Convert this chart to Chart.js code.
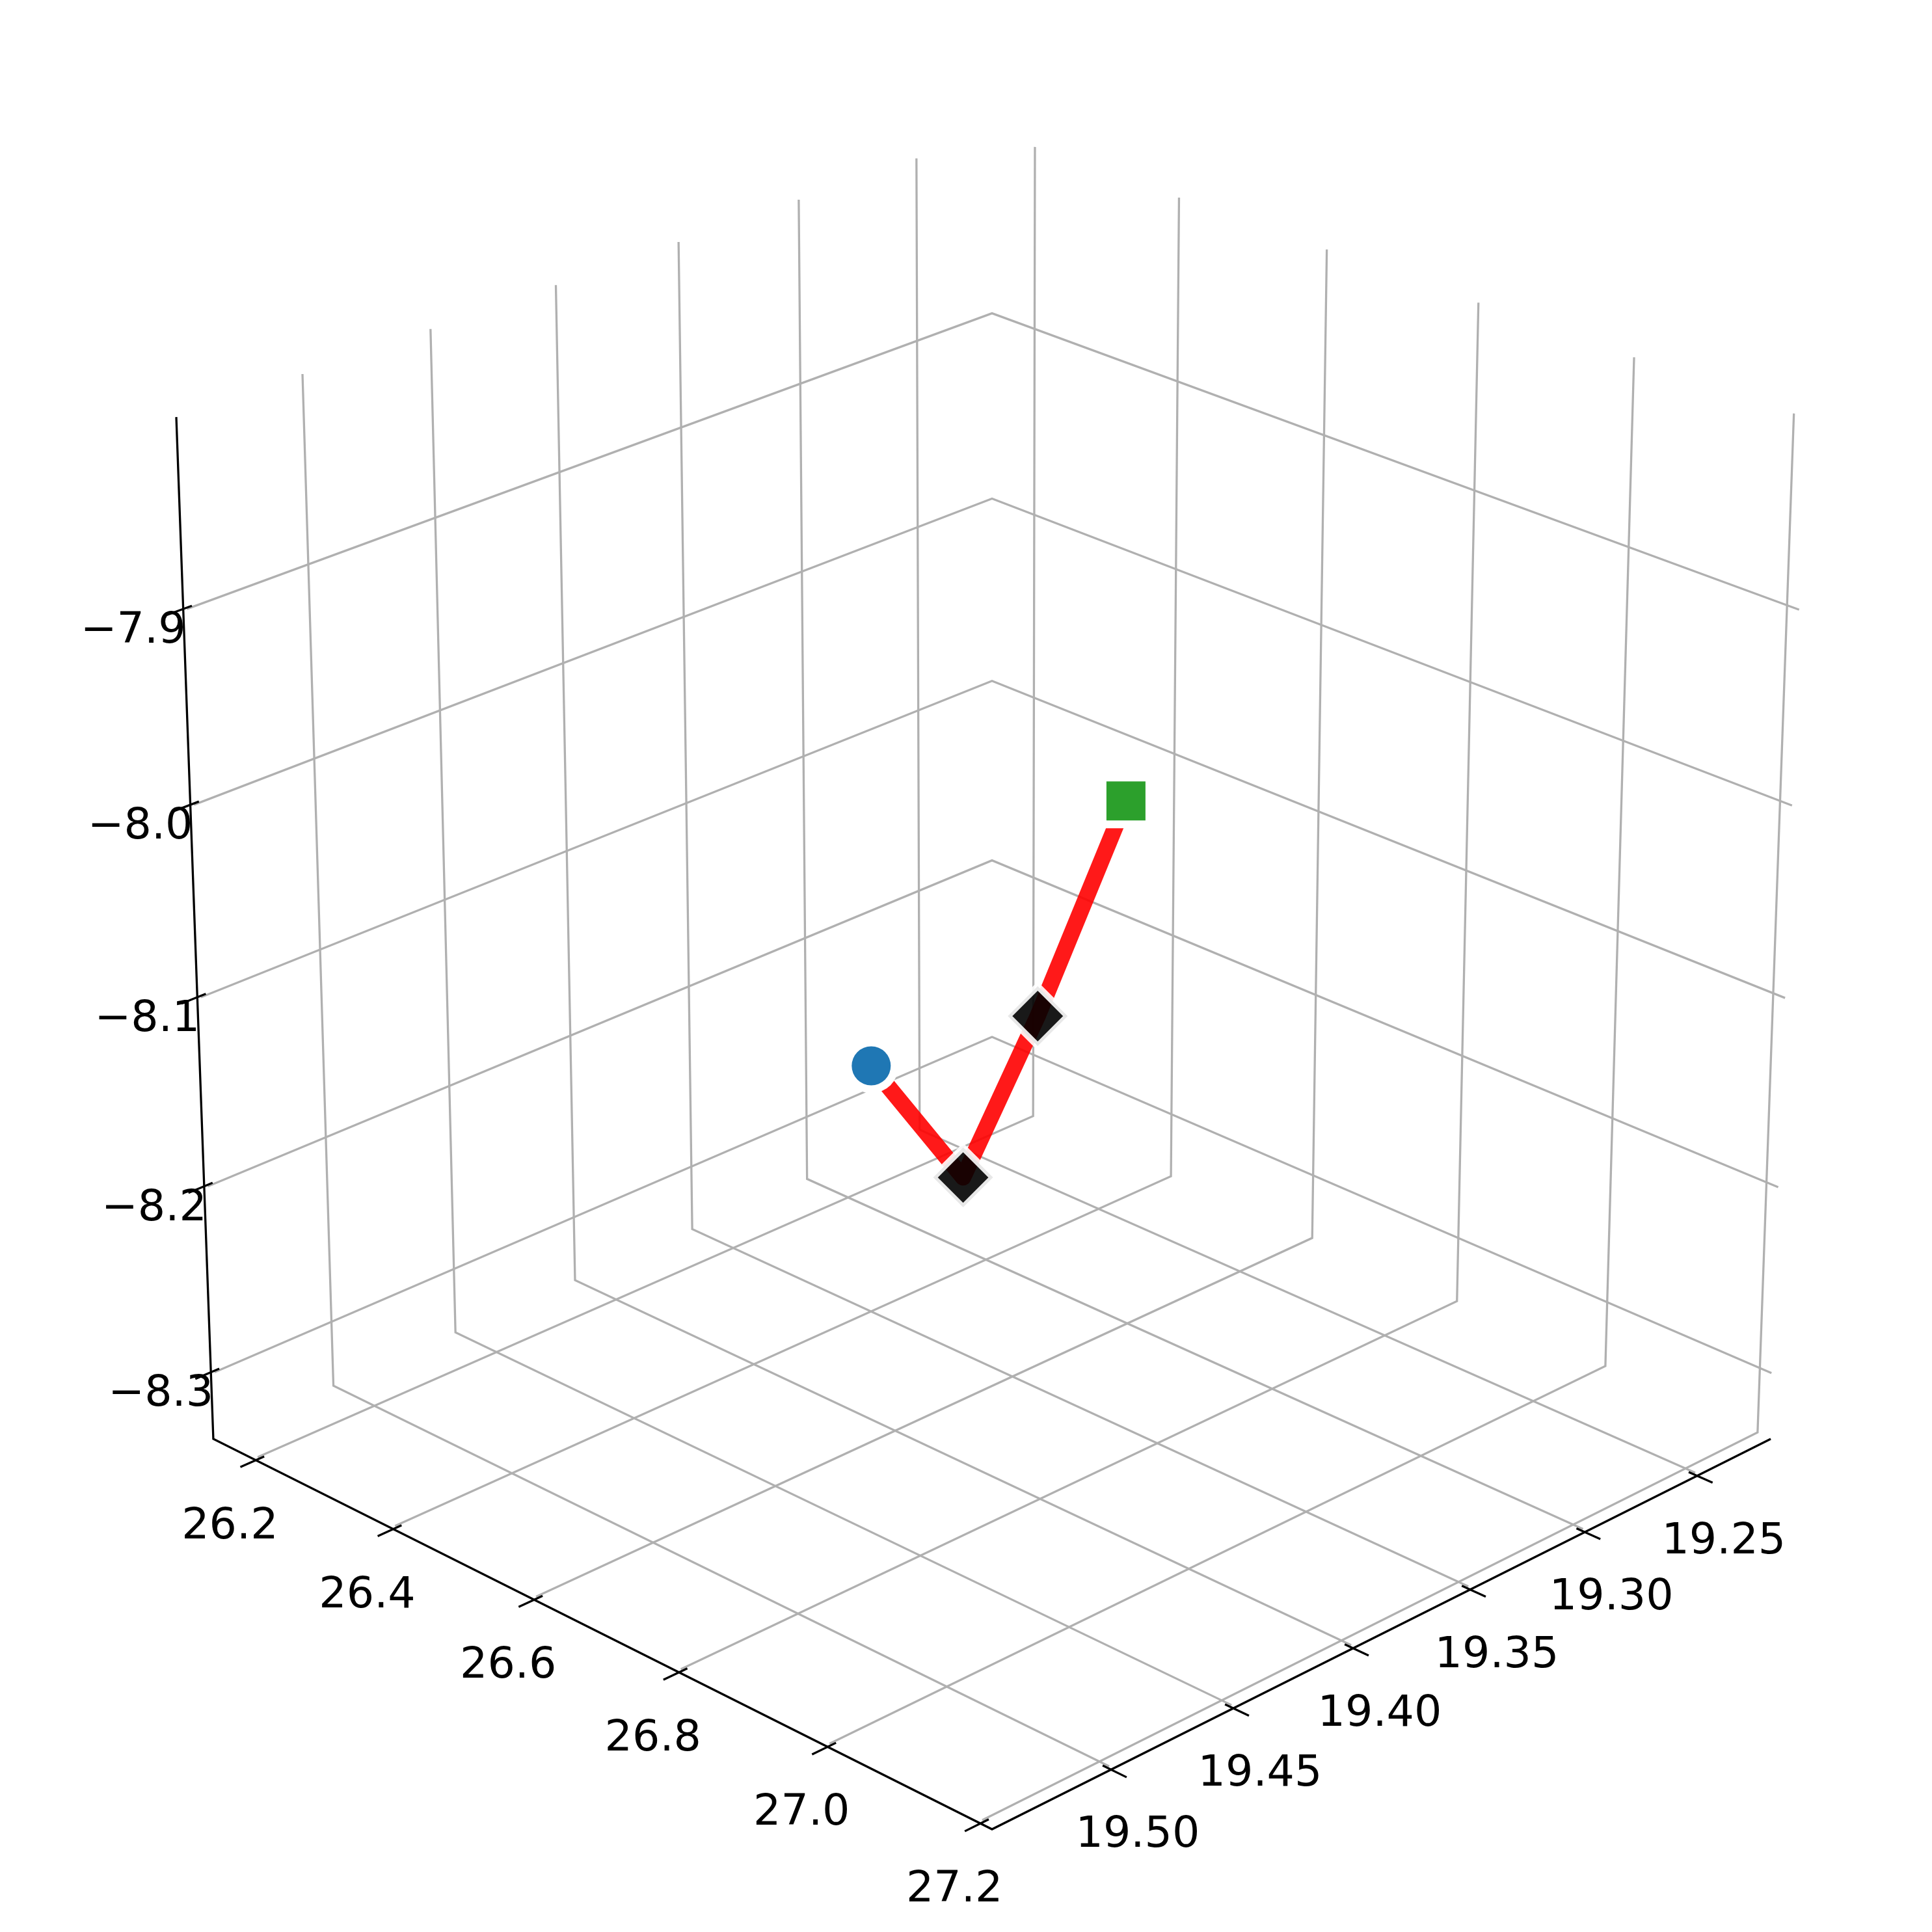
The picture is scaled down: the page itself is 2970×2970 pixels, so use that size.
<!DOCTYPE html>
<html lang="en">
<head>
  <meta charset="UTF-8" />
  <title>3D path</title>
  <style>
    body { margin: 0; background: #ffffff; }
    canvas { display: block; }
  </style>
</head>
<body>
  <canvas id="chart" width="2970" height="2970"></canvas>

  <script src="https://cdn.jsdelivr.net/npm/chart.js"></script>
  <script>
    // path
    const pathX = [19.2893, 19.2976, 19.3647, 19.4943];
    const pathY = [26.1992, 26.3594, 26.6816, 27.2086];
    const pathZ = [-8.2671, -8.2976, -8.1184, -7.8569];

    // axis ranges and ticks
    const xLim = [19.2166, 19.5476];
    const yLim = [26.137, 27.215];
    const zLim = [-8.3363, -7.8037];
    const xTicks = [19.25, 19.30, 19.35, 19.40, 19.45, 19.50];
    const yTicks = [26.2, 26.4, 26.6, 26.8, 27.0, 27.2];
    const zTicks = [-8.3, -8.2, -8.1, -8.0, -7.9];
    const xTickLabels = ['19.25', '19.30', '19.35', '19.40', '19.45', '19.50'];
    const yTickLabels = ['26.2', '26.4', '26.6', '26.8', '27.0', '27.2'];
    const zTickLabels = ['\u22128.3', '\u22128.2', '\u22128.1', '\u22128.0', '\u22127.9'];

    // camera, same idea as mplot3d: elev 25, azim 45, dist 10
    const elev = 25 * Math.PI / 180;
    const azim = 45 * Math.PI / 180;
    const dist = 10;
    const half = 0.55;   // half size of the cube in view units
    const GRID_IN = 0.0025;
    const TICK_IN = 0.011;
    const TICK_OUT = 0.0205;

    const norm = (v, lim) => (2 * (v - lim[0]) / (lim[1] - lim[0]) - 1) * half;

    // cube coords -> projected plane
    function cube(a, b, c) {
      const ce = Math.cos(elev), se = Math.sin(elev), ca = Math.cos(azim), sa = Math.sin(azim);
      const d = dist - (ce * ca * a + ce * sa * b + se * c);
      return {
        x: (-sa * a + ca * b) / d,
        y: (-se * ca * a - se * sa * b + ce * c) / d
      };
    }
    const project = (x, y, z) => cube(norm(x, xLim), norm(y, yLim), norm(z, zLim));

    function line(points, color, width) {
      return {
        data: points,
        showLine: true,
        borderColor: color,
        borderWidth: width,
        pointRadius: 0,
        clip: false
      };
    }

    function marker(points, style, radius, fill, edge, edgeWidth) {
      return {
        data: points,
        showLine: false,
        pointStyle: style,
        pointRadius: radius,
        pointBackgroundColor: fill,
        pointBorderColor: edge,
        pointBorderWidth: edgeWidth,
        clip: false
      };
    }

    const pathPoints = pathX.map((x, i) => project(x, pathY[i], pathZ[i]));
    const last = pathPoints.length - 1;
    const g = half - GRID_IN;

    const gridSets = [];
    xTicks.forEach(t => {
      const a = norm(t, xLim);
      gridSets.push(line([cube(a, g, -g), cube(a, -g, -g), cube(a, -g, half)], '#b0b0b0', 3.3));
    });
    yTicks.forEach(t => {
      const b = norm(t, yLim);
      gridSets.push(line([cube(g, b, -g), cube(-g, b, -g), cube(-g, b, half)], '#b0b0b0', 3.3));
    });
    zTicks.forEach(t => {
      const c = norm(t, zLim);
      gridSets.push(line([cube(g, -g, c), cube(-g, -g, c), cube(-g, half, c)], '#b0b0b0', 3.3));
    });

    const tickSets = [];
    xTicks.forEach(t => {
      const a = norm(t, xLim);
      tickSets.push(line([cube(a, half + TICK_OUT, -half), cube(a, half - TICK_IN, -half)], '#000000', 3.3));
    });
    yTicks.forEach(t => {
      const b = norm(t, yLim);
      tickSets.push(line([cube(half + TICK_OUT, b, -half), cube(half - TICK_IN, b, -half)], '#000000', 3.3));
    });
    zTicks.forEach(t => {
      const c = norm(t, zLim);
      tickSets.push(line([cube(half + TICK_OUT, -half, c), cube(half - TICK_IN, -half, c)], '#000000', 3.3));
    });

    const axisSet = line([
      cube(half, -half, half),
      cube(half, -half, -half),
      cube(half, half, -half),
      cube(-half, half, -half)
    ], '#000000', 3.3);

    const redLine = line(pathPoints, 'rgba(255, 0, 0, 0.9)', 25);
    redLine.borderJoinStyle = 'round';

    // Chart.js paints the first dataset last, so markers come first here
    const datasets = [
      marker([pathPoints[0]], 'circle', 30, '#1f77b4', '#1f77b4', 0),
      marker([pathPoints[last]], 'rect', 42.43, '#2ca02c', '#2ca02c', 0),
      marker([pathPoints[0]], 'circle', 42, '#ffffff', '#ffffff', 0),
      marker([pathPoints[last]], 'rect', 59.4, '#ffffff', '#ffffff', 0),
      marker(pathPoints.slice(1, last), 'rectRot', 46, 'rgba(0, 0, 0, 0.9)', 'rgba(255, 255, 255, 0.9)', 10),
      redLine,
      axisSet,
      ...tickSets,
      ...gridSets
    ];

    // tick labels as text next to the tick on the axis
    const tickText = {
      id: 'tickText',
      afterDatasetsDraw(chart) {
        const { ctx, scales } = chart;
        const put = (pt, label, dx, dy) => {
          ctx.fillText(label, scales.x.getPixelForValue(pt.x) + dx, scales.y.getPixelForValue(pt.y) + dy);
        };
        ctx.save();
        ctx.font = '66.67px "DejaVu Sans"';
        ctx.fillStyle = '#000000';
        ctx.textAlign = 'center';
        ctx.textBaseline = 'alphabetic';
        xTicks.forEach((t, i) => put(cube(norm(t, xLim), half, -half), xTickLabels[i], 41, 119));
        yTicks.forEach((t, i) => put(cube(half, norm(t, yLim), -half), yTickLabels[i], -40, 120));
        zTicks.forEach((t, i) => put(cube(half, -half, norm(t, zLim)), zTickLabels[i], -77, 52));
        ctx.restore();
      }
    };

    new Chart(document.getElementById('chart'), {
      type: 'scatter',
      data: { datasets: datasets },
      plugins: [tickText],
      options: {
        responsive: false,
        animation: false,
        layout: { padding: 0, autoPadding: false },
        plugins: { legend: { display: false }, tooltip: { enabled: false } },
        scales: {
          x: { type: 'linear', bounds: 'data', display: false, min: -0.09684, max: 0.09176 },
          y: { type: 'linear', bounds: 'data', display: false, min: -0.09685, max: 0.09174 }
        }
      }
    });
  </script>
</body>
</html>
